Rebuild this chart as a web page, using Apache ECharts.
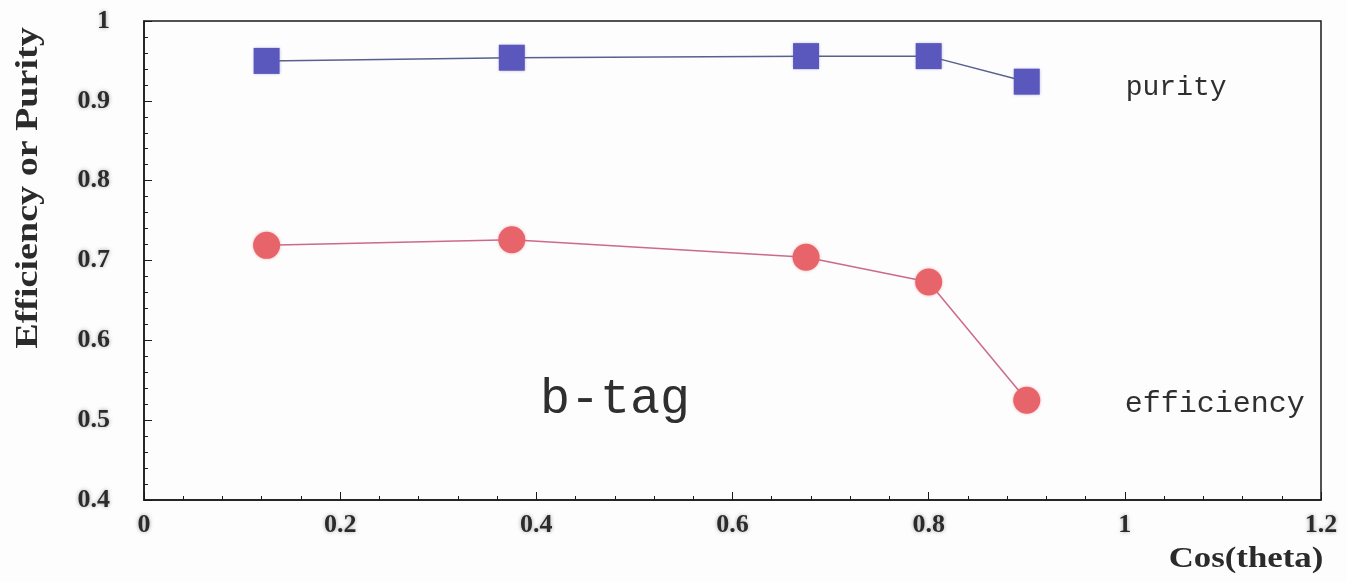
<!DOCTYPE html>
<html>
<head>
<meta charset="utf-8">
<script src="https://cdn.jsdelivr.net/npm/echarts@6/dist/echarts.min.js"></script>
<style>
  html, body { margin: 0; padding: 0; background: #fdfdfd; }
  #chart { width: 1347px; height: 582px; }
</style>
</head>
<body>
<div id="chart"></div>
<script>
// b-tagging performance versus polar angle bin
const cosTheta   = [0.125, 0.375, 0.675, 0.8, 0.9];
const purity     = [0.950, 0.954, 0.956, 0.956, 0.924];
const efficiency = [0.719, 0.726, 0.704, 0.673, 0.525];

const xTitle = 'Cos(theta)';
const yTitle = 'Efficiency or Purity';
const purityLabel = 'purity';
const efficiencyLabel = 'efficiency';
const panelLabel = 'b-tag';

const serif = '"Liberation Serif", "DejaVu Serif", serif';
const plotter = '"Liberation Mono", "DejaVu Sans Mono", monospace';
const ink = '#2b2b2b';
const halo = 'rgba(0,0,0,0.35)';

const tickLabel = {
  fontFamily: serif,
  fontWeight: 'bold',
  fontSize: 26,
  color: ink,
  textShadowColor: halo,
  textShadowBlur: 4
};

const chart = echarts.init(document.getElementById('chart'), null, { renderer: 'canvas' });

chart.setOption({
  backgroundColor: '#fdfdfd',
  animation: false,
  grid: {
    left: 144, right: 26, top: 21, bottom: 82,
    show: true,
    borderColor: '#1a1a1a',
    borderWidth: 1.5,
    backgroundColor: 'transparent'
  },
  xAxis: {
    type: 'value',
    min: 0, max: 1.2, interval: 0.2,
    axisLine: { lineStyle: { color: '#1a1a1a', width: 1.5 } },
    axisTick: { inside: true, length: 8, lineStyle: { color: '#1a1a1a' } },
    minorTick: { show: true, splitNumber: 5, length: 4, lineStyle: { color: '#1a1a1a' } },
    splitLine: { show: false },
    axisLabel: Object.assign({ margin: 12 }, tickLabel)
  },
  yAxis: {
    type: 'value',
    min: 0.4, max: 1, interval: 0.1,
    axisLine: { lineStyle: { color: '#1a1a1a', width: 1.5 } },
    axisTick: { inside: true, length: 8, lineStyle: { color: '#1a1a1a' } },
    minorTick: { show: true, splitNumber: 5, length: 4, lineStyle: { color: '#1a1a1a' } },
    splitLine: { show: false },
    axisLabel: Object.assign({ margin: 34 }, tickLabel)
  },
  series: [
    {
      name: purityLabel,
      type: 'line',
      data: cosTheta.map((x, i) => [x, purity[i]]),
      symbol: 'rect',
      symbolSize: 26,
      itemStyle: { color: '#5a57bd', shadowColor: 'rgba(90,87,189,0.5)', shadowBlur: 3 },
      lineStyle: { color: '#56618f', width: 1.5 },
      endLabel: {
        show: true,
        formatter: purityLabel,
        fontFamily: plotter, fontSize: 28, color: '#2f2f2f',
        distance: 99, offset: [0, 6]
      }
    },
    {
      name: efficiencyLabel,
      type: 'line',
      data: cosTheta.map((x, i) => [x, efficiency[i]]),
      symbol: 'circle',
      symbolSize: 27,
      itemStyle: { color: '#e6646a', shadowColor: 'rgba(230,100,106,0.5)', shadowBlur: 3 },
      lineStyle: { color: '#cc6a88', width: 1.5 },
      endLabel: {
        show: true,
        formatter: efficiencyLabel,
        fontFamily: plotter, fontSize: 30, color: '#2f2f2f',
        distance: 98, offset: [0, 4]
      }
    }
  ],
  graphic: [
    {
      // y-axis title, set in a slightly widened bold serif
      type: 'text',
      x: 29,
      y: 188,
      rotation: Math.PI / 2,
      scaleX: 1.19,
      style: {
        text: yTitle,
        font: 'bold 32px ' + serif,
        fill: ink,
        align: 'center',
        verticalAlign: 'middle',
        shadowColor: halo,
        shadowBlur: 4
      }
    },
    {
      // x-axis title below the right end of the axis
      type: 'text',
      x: 1246,
      y: 560,
      scaleX: 1.2,
      style: {
        text: xTitle,
        font: 'bold 29px ' + serif,
        fill: ink,
        align: 'center',
        verticalAlign: 'middle',
        shadowColor: halo,
        shadowBlur: 4
      }
    },
    {
      type: 'text',
      left: 540,
      top: 375,
      style: {
        text: panelLabel,
        font: '50px ' + plotter,
        fill: '#2f2f2f'
      }
    }
  ]
});
</script>
</body>
</html>
